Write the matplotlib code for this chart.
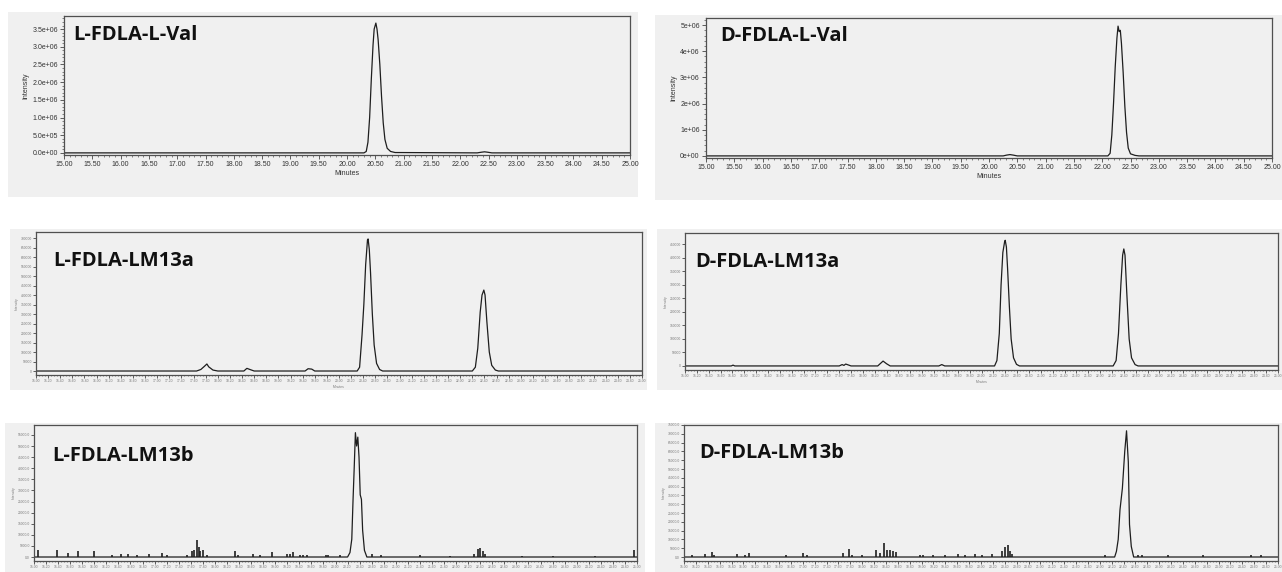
"""
Six HPLC-MS chromatograms (Marfey's analysis of valine in LM13a / LM13b),
laid out as a 3 x 2 grid of grey instrument-style panels.
"""

import matplotlib
matplotlib.use("Agg")
import matplotlib.pyplot as plt
from matplotlib.patches import Rectangle
from matplotlib.ticker import MultipleLocator, FuncFormatter

W, H = 1282, 572  # output size in pixels

# --- L-FDLA-L-Val (retention time in min, intensity) ---
lval_L_time = [15.00, 20.30, 20.34, 20.37, 20.40, 20.43, 20.46, 20.48, 20.51, 20.53,
               20.55, 20.58, 20.61, 20.64, 20.67, 20.71, 20.77, 20.85, 22.30, 22.38,
               22.43, 22.48, 22.56, 25.00]
lval_L_int = [0, 0, 0.04e6, 0.3e6, 1.0e6, 2.1e6, 3.05e6, 3.5e6, 3.67e6, 3.5e6,
              3.2e6, 2.5e6, 1.6e6, 0.85e6, 0.38e6, 0.13e6, 0.04e6, 0.01e6, 0, 0.02e6,
              0.03e6, 0.02e6, 0, 0]

# --- D-FDLA-L-Val ---
lval_D_time = [15.00, 20.25, 20.31, 20.37, 20.43, 20.50, 22.10, 22.14, 22.17, 22.20,
               22.23, 22.26, 22.28, 22.30, 22.32, 22.34, 22.37, 22.40, 22.43, 22.46,
               22.50, 22.58, 22.65, 25.00]
lval_D_int = [0, 0, 0.03e6, 0.05e6, 0.03e6, 0, 0, 0.1e6, 0.8e6, 2.0e6,
              3.4e6, 4.5e6, 4.96e6, 4.75e6, 4.8e6, 4.3e6, 3.2e6, 1.9e6, 0.9e6, 0.3e6,
              0.08e6, 0.02e6, 0, 0]

# --- L-FDLA-LM13a ---
lm13a_L_time = [15.00, 17.65, 17.72, 17.78, 17.82, 17.85, 17.92, 18.00, 18.43, 18.48,
                18.53, 18.60, 19.44, 19.49, 19.55, 19.60, 20.30, 20.34, 20.38, 20.41,
                20.44, 20.47, 20.48, 20.50, 20.52, 20.55, 20.58, 20.62, 20.67, 20.72,
                22.20, 22.25, 22.29, 22.33, 22.36, 22.39, 22.41, 22.44, 22.48, 22.52,
                22.58, 22.63, 25.00]
lm13a_L_int = [0, 0, 8000, 25000, 37000, 22000, 5000, 0, 0, 14000,
               8000, 0, 0, 12000, 10000, 0, 0, 20000, 190000, 350000,
               560000, 690000, 695000, 640000, 520000, 300000, 137000, 40000, 8000, 0,
               0, 20000, 120000, 310000, 400000, 426000, 400000, 260000, 100000, 30000,
               5000, 0, 0]

# --- D-FDLA-LM13a ---
lm13a_D_time = [15.00, 15.78, 15.81, 15.84, 17.60, 17.65, 17.68, 17.71, 17.75, 17.80,
                18.25, 18.30, 18.34, 18.40, 18.46, 19.28, 19.33, 19.38, 20.22, 20.26,
                20.30, 20.33, 20.36, 20.39, 20.40, 20.42, 20.44, 20.47, 20.50, 20.54,
                20.59, 20.64, 22.22, 22.27, 22.31, 22.35, 22.38, 22.40, 22.42, 22.45,
                22.49, 22.53, 22.59, 22.64, 25.00]
lm13a_D_int = [0, 0, 3000, 0, 0, 5000, 2000, 7000, 4000, 0,
               0, 10000, 18000, 8000, 0, 0, 5000, 0, 0, 20000,
               120000, 300000, 420000, 460000, 465000, 440000, 360000, 220000, 100000, 30000,
               6000, 0, 0, 20000, 120000, 300000, 410000, 433000, 410000, 270000,
               100000, 30000, 5000, 0, 0]

# --- L-FDLA-LM13b (main peak trace + narrow noise spikes) ---
lm13b_L_time = [15.00, 20.20, 20.24, 20.27, 20.29, 20.31, 20.33, 20.35, 20.37, 20.39,
                20.41, 20.43, 20.45, 20.48, 20.52, 25.00]
lm13b_L_int = [0, 0, 2000, 8000, 25000, 40000, 56000, 50000, 54000, 45000,
               28000, 26000, 12000, 3000, 0, 0]
lm13b_L_spike_t = [15.07, 15.38, 15.57, 15.73, 15.99, 16.29, 16.45, 16.56, 16.70, 16.90,
                   17.12, 17.20, 17.53, 17.62, 17.66, 17.70, 17.73, 17.76, 17.81, 17.87,
                   18.33, 18.39, 18.64, 18.75, 18.94, 19.19, 19.24, 19.29, 19.41, 19.46,
                   19.53, 19.84, 19.88, 20.08, 20.61, 20.75, 21.40, 21.90, 22.30, 22.36,
                   22.40, 22.44, 22.48, 23.10, 23.60, 24.30, 24.95]
lm13b_L_spike_h = [3000, 3300, 1800, 2550, 2550, 1000, 1350, 1350, 1000, 1350,
                   1800, 1000, 800, 2500, 3300, 7800, 4500, 2550, 3000, 1000,
                   2550, 1000, 1350, 1000, 2250, 1350, 1350, 2250, 1000, 1000,
                   1000, 800, 1000, 1000, 1500, 1000, 800, 600, 1500, 3500,
                   4000, 2500, 1500, 600, 500, 500, 3000]

# --- D-FDLA-LM13b ---
lm13b_D_time = [15.00, 22.25, 22.28, 22.31, 22.34, 22.38, 22.42, 22.45, 22.48, 22.50,
                22.53, 22.57, 25.00]
lm13b_D_int = [0, 0, 3200, 10000, 26900, 39000, 60000, 71700, 54000, 18500,
               6000, 0, 0]
lm13b_D_spike_t = [15.13, 15.36, 15.47, 15.51, 15.89, 16.03, 16.10, 16.72, 17.01, 17.07,
                   17.68, 17.77, 17.82, 17.99, 18.24, 18.30, 18.36, 18.41, 18.47, 18.52,
                   18.57, 18.97, 19.03, 19.20, 19.39, 19.62, 19.73, 19.90, 20.01, 20.18,
                   20.35, 20.40, 20.46, 20.49, 20.53, 22.09, 22.64, 22.71, 23.15, 23.74,
                   24.55, 24.72]
lm13b_D_spike_h = [1300, 1700, 2800, 1300, 1700, 1300, 2500, 1300, 2100, 1300,
                   2100, 4700, 1300, 950, 3800, 2300, 8000, 4200, 4000, 3200,
                   2800, 1300, 950, 950, 950, 1700, 950, 1700, 950, 1900,
                   3200, 5500, 7000, 3200, 1700, 1300, 1300, 950, 1300, 1300,
                   950, 950]

TRACE = "#1e1e1e"
FRAME = "#505050"
PANEL = "#f0f0f0"
TICK_FONT = "Liberation Sans"


def px_axes(fig, left, top, right, bottom):
    """Add an axes given its box in output pixels (origin top-left)."""
    return fig.add_axes([left / W, 1 - bottom / H, (right - left) / W, (bottom - top) / H])


def panel_bg(fig, left, top, right, bottom):
    fig.add_artist(Rectangle((left / W, 1 - bottom / H), (right - left) / W,
                             (bottom - top) / H, transform=fig.transFigure,
                             facecolor=PANEL, edgecolor="none", zorder=-1))


def style_axes(ax, big, xlabel=True):
    ax.set_facecolor(PANEL)
    for sp in ax.spines.values():
        sp.set_color(FRAME)
        sp.set_linewidth(0.9)
    ax.set_xlim(15, 25)
    size = 5.0 if big else 2.4
    lc = "#333333" if big else "#777777"
    ax.tick_params(which="major", length=3 if big else 2, width=0.6, color="#444444",
                   labelsize=size, labelcolor=lc, pad=1.5 if big else 1)
    ax.tick_params(which="minor", length=1.5 if big else 1, width=0.5, color="#555555")
    for lab in ax.get_xticklabels() + ax.get_yticklabels():
        lab.set_family(TICK_FONT)
    if xlabel:
        ax.set_xlabel("Minutes", fontsize=size, family=TICK_FONT, color=lc, labelpad=1)
    ax.set_ylabel("Intensity", fontsize=size, family=TICK_FONT, color=lc,
                  labelpad=2 if big else 1)


def label(fig, text, x, y):
    fig.text(x / W, 1 - y / H, text, fontsize=14.5, fontweight="bold",
             family="Open Sans", color="#111111", va="baseline", ha="left")


fig = plt.figure(figsize=(W / 100, H / 100), dpi=100)
fig.patch.set_facecolor("white")

# ---- top row: L-Val standards ----
panel_bg(fig, 8, 12, 638, 197)
ax = px_axes(fig, 64, 16, 630, 155)
ax.plot(lval_L_time, lval_L_int, color=TRACE, lw=0.9)
ax.set_ylim(-0.06e6, 3.87e6)
ax.xaxis.set_major_locator(MultipleLocator(0.5))
ax.xaxis.set_minor_locator(MultipleLocator(0.1))
ax.yaxis.set_major_locator(MultipleLocator(0.5e6))
ax.yaxis.set_minor_locator(MultipleLocator(0.1e6))
ax.xaxis.set_major_formatter(FuncFormatter(lambda v, p: f"{v:.2f}"))
ax.yaxis.set_major_formatter(FuncFormatter(lambda v, p: f"{v:.1e}"))
style_axes(ax, True)
label(fig, "L-FDLA-L-Val", 73, 40)

panel_bg(fig, 655, 15, 1282, 200)
ax = px_axes(fig, 706, 18, 1272, 158)
ax.plot(lval_D_time, lval_D_int, color=TRACE, lw=0.9)
ax.set_ylim(-0.08e6, 5.27e6)
ax.xaxis.set_major_locator(MultipleLocator(0.5))
ax.xaxis.set_minor_locator(MultipleLocator(0.1))
ax.yaxis.set_major_locator(MultipleLocator(1e6))
ax.yaxis.set_minor_locator(MultipleLocator(0.2e6))
ax.xaxis.set_major_formatter(FuncFormatter(lambda v, p: f"{v:.2f}"))
ax.yaxis.set_major_formatter(FuncFormatter(lambda v, p: f"{v:.0e}"))
style_axes(ax, True)
label(fig, "D-FDLA-L-Val", 720, 41)

# ---- middle row: LM13a ----
panel_bg(fig, 10, 229, 647, 390)
ax = px_axes(fig, 36, 232, 642, 375)
ax.plot(lm13a_L_time, lm13a_L_int, color=TRACE, lw=0.9)
ax.set_ylim(-21000, 731600)
ax.yaxis.set_major_locator(MultipleLocator(50000))
ax.yaxis.set_major_formatter(FuncFormatter(lambda v, p: f"{v:.0f}"))
ax.xaxis.set_major_locator(MultipleLocator(0.2))
ax.xaxis.set_minor_locator(MultipleLocator(0.05))
ax.xaxis.set_major_formatter(FuncFormatter(lambda v, p: f"{v:.2f}"))
style_axes(ax, False)
label(fig, "L-FDLA-LM13a", 53, 266)

panel_bg(fig, 657, 229, 1282, 390)
ax = px_axes(fig, 685, 233, 1278, 370)
ax.plot(lm13a_D_time, lm13a_D_int, color=TRACE, lw=0.9)
ax.set_ylim(-15000, 492000)
ax.yaxis.set_major_locator(MultipleLocator(50000))
ax.yaxis.set_major_formatter(FuncFormatter(lambda v, p: f"{v:.0f}"))
ax.xaxis.set_major_locator(MultipleLocator(0.2))
ax.xaxis.set_minor_locator(MultipleLocator(0.05))
ax.xaxis.set_major_formatter(FuncFormatter(lambda v, p: f"{v:.2f}"))
style_axes(ax, False)
label(fig, "D-FDLA-LM13a", 695, 267)

# ---- bottom row: LM13b (x-axis title falls below the image edge) ----
panel_bg(fig, 5, 423, 645, 572)
ax = px_axes(fig, 34, 425, 637, 561)
ax.plot(lm13b_L_time, lm13b_L_int, color=TRACE, lw=0.9)
ax.vlines(lm13b_L_spike_t, 0, lm13b_L_spike_h, color=TRACE, lw=1.2)
ax.set_ylim(-1800, 59460)
ax.yaxis.set_major_locator(MultipleLocator(5000))
ax.yaxis.set_major_formatter(FuncFormatter(lambda v, p: f"{v:.1f}"))
ax.xaxis.set_major_locator(MultipleLocator(0.2))
ax.xaxis.set_minor_locator(MultipleLocator(0.05))
ax.xaxis.set_major_formatter(FuncFormatter(lambda v, p: f"{v:.2f}"))
style_axes(ax, False, xlabel=False)
label(fig, "L-FDLA-LM13b", 52, 461)

panel_bg(fig, 655, 423, 1282, 572)
ax = px_axes(fig, 684, 425, 1278, 561)
ax.plot(lm13b_D_time, lm13b_D_int, color=TRACE, lw=0.9)
ax.vlines(lm13b_D_spike_t, 0, lm13b_D_spike_h, color=TRACE, lw=1.2)
ax.set_ylim(-2270, 75000)
ax.yaxis.set_major_locator(MultipleLocator(5000))
ax.yaxis.set_major_formatter(FuncFormatter(lambda v, p: f"{v:.1f}"))
ax.xaxis.set_major_locator(MultipleLocator(0.2))
ax.xaxis.set_minor_locator(MultipleLocator(0.05))
ax.xaxis.set_major_formatter(FuncFormatter(lambda v, p: f"{v:.2f}"))
style_axes(ax, False, xlabel=False)
label(fig, "D-FDLA-LM13b", 699, 458)

fig.savefig("out.png", dpi=100)
